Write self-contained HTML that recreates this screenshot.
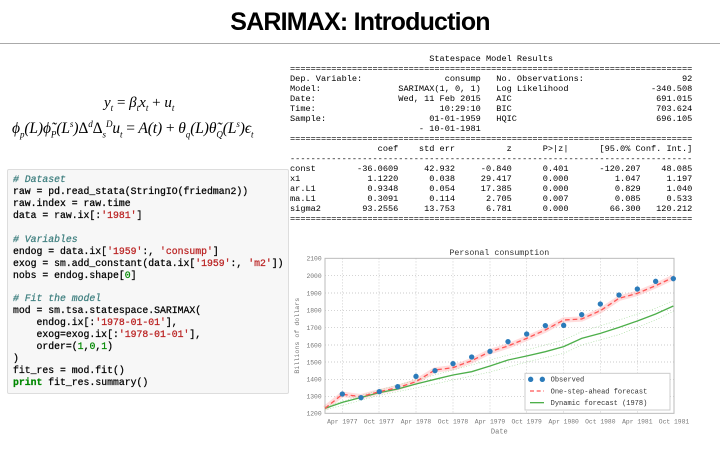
<!DOCTYPE html>
<html><head><meta charset="utf-8"><style>
body{margin:0;width:720px;height:450px;background:#fff;position:relative;overflow:hidden;font-family:"Liberation Sans",sans-serif}
.title{position:absolute;left:0;width:720px;top:8px;text-align:center;font-weight:bold;font-size:25px;letter-spacing:-0.8px;color:#000}
.rule{position:absolute;left:0;top:43px;width:720px;height:1px;background:#aaa}
.eq{position:absolute;font-family:"Liberation Serif",serif;font-style:italic;font-size:14px;white-space:nowrap;color:#000}
.eq sub,.eq sup{font-size:9px}
.code{position:absolute;left:7px;top:169px;width:280px;height:223px;background:#f7f7f7;border:1px solid #ddd;border-radius:2px}
.code pre{margin:0;position:absolute;left:5px;top:4px;font-family:"Liberation Mono",monospace;font-size:9.8px;line-height:11.93px;color:#000;-webkit-text-stroke:0.25px}
.c{color:#408080;font-style:italic}.s{color:#ba2121}.n{color:#080}.k{color:#080;font-weight:bold}
.tbl{position:absolute;left:290px;top:54px;margin:0;font-family:"Liberation Mono",monospace;font-size:8.6px;line-height:10px;color:#000}
</style></head><body>
<div class="title">SARIMAX: Introduction</div>
<div class="rule"></div>
<div class="eq" style="left:104px;top:95px;font-size:15px">y<sub>t</sub> <span style="font-style:normal">=</span> β<sub>t</sub>x<sub>t</sub> <span style="font-style:normal">+</span> u<sub>t</sub></div>
<div class="eq" style="left:12px;top:119px;font-size:15.5px;letter-spacing:-0.1px">ϕ<sub>p</sub>(L)ϕ̃<sub>P</sub>(L<sup>s</sup>)<span style="font-style:normal">Δ</span><sup>d</sup><span style="font-style:normal">Δ</span><sub>s</sub><sup>D</sup>u<sub>t</sub> <span style="font-style:normal">=</span> A(t) <span style="font-style:normal">+</span> θ<sub>q</sub>(L)θ̃<sub>Q</sub>(L<sup>s</sup>)ϵ<sub>t</sub></div>
<div class="code"><pre><span class="c"># Dataset</span>
raw = pd.read_stata(StringIO(friedman2))
raw.index = raw.time
data = raw.ix[:<span class="s">'1981'</span>]

<span class="c"># Variables</span>
endog = data.ix[<span class="s">'1959'</span>:, <span class="s">'consump'</span>]
exog = sm.add_constant(data.ix[<span class="s">'1959'</span>:, <span class="s">'m2'</span>])
nobs = endog.shape[<span class="n">0</span>]

<span class="c"># Fit the model</span>
mod = sm.tsa.statespace.SARIMAX(
    endog.ix[:<span class="s">'1978-01-01'</span>],
    exog=exog.ix[:<span class="s">'1978-01-01'</span>],
    order=(<span class="n">1</span>,<span class="n">0</span>,<span class="n">1</span>)
)
fit_res = mod.fit()
<span class="k">print</span> fit_res.summary()</pre></div>
<pre class="tbl">                           Statespace Model Results                           
==============================================================================
Dep. Variable:                consump   No. Observations:                   92
Model:               SARIMAX(1, 0, 1)   Log Likelihood                -340.508
Date:                Wed, 11 Feb 2015   AIC                            691.015
Time:                        10:29:10   BIC                            703.624
Sample:                    01-01-1959   HQIC                           696.105
                         - 10-01-1981                                         
==============================================================================
                 coef    std err          z      P>|z|      [95.0% Conf. Int.]
------------------------------------------------------------------------------
const        -36.0609     42.932     -0.840      0.401      -120.207    48.085
x1             1.1220      0.038     29.417      0.000         1.047     1.197
ar.L1          0.9348      0.054     17.385      0.000         0.829     1.040
ma.L1          0.3091      0.114      2.705      0.007         0.085     0.533
sigma2        93.2556     13.753      6.781      0.000        66.300   120.212
==============================================================================</pre>
<svg style="position:absolute;left:290px;top:240px" width="400" height="200" viewBox="0 0 1200 600" font-family="Liberation Mono, monospace">
<rect x="105" y="55" width="1047" height="465" fill="#fff" stroke="#bbb" stroke-width="3"/>
<g stroke="#bbb" stroke-width="2" stroke-dasharray="3,6">
<line x1="105" x2="1152" y1="107" y2="107"/><line x1="105" x2="1152" y1="159" y2="159"/><line x1="105" x2="1152" y1="211" y2="211"/><line x1="105" x2="1152" y1="263" y2="263"/><line x1="105" x2="1152" y1="315" y2="315"/><line x1="105" x2="1152" y1="366" y2="366"/><line x1="105" x2="1152" y1="418" y2="418"/><line x1="105" x2="1152" y1="469" y2="469"/>
<line y1="55" y2="520" x1="157" x2="157"/><line y1="55" y2="520" x1="267" x2="267"/><line y1="55" y2="520" x1="378" x2="378"/><line y1="55" y2="520" x1="489" x2="489"/><line y1="55" y2="520" x1="600" x2="600"/><line y1="55" y2="520" x1="710" x2="710"/><line y1="55" y2="520" x1="821" x2="821"/><line y1="55" y2="520" x1="931" x2="931"/><line y1="55" y2="520" x1="1042" x2="1042"/>
</g>
<g fill="#777" font-size="19" text-anchor="end">
<text x="95" y="62">2100</text><text x="95" y="114">2000</text><text x="95" y="166">1900</text><text x="95" y="218">1800</text><text x="95" y="270">1700</text><text x="95" y="322">1600</text><text x="95" y="373">1500</text><text x="95" y="425">1400</text><text x="95" y="476">1300</text><text x="95" y="527">1200</text>
</g>
<g fill="#777" font-size="19" text-anchor="middle">
<text x="157" y="550">Apr 1977</text><text x="267" y="550">Oct 1977</text><text x="378" y="550">Apr 1978</text><text x="489" y="550">Oct 1978</text><text x="600" y="550">Apr 1979</text><text x="710" y="550">Oct 1979</text><text x="821" y="550">Apr 1980</text><text x="931" y="550">Oct 1980</text><text x="1042" y="550">Apr 1981</text><text x="1152" y="550">Oct 1981</text>
<text x="628" y="580" font-size="21">Date</text>
<text x="628" y="45" font-size="25" fill="#333">Personal consumption</text>
<text transform="translate(27,287) rotate(-90)" font-size="20">Billions of dollars</text>
</g>
<polyline fill="none" stroke="#ff9090" stroke-opacity="0.3" stroke-width="16" points="105,505 157,463 213,470 268,455 323,443 378,425 435,390 489,383 545,362 600,335 654,318 710,295 766,270 821,240 875,237 931,212 987,175 1042,160 1097,137 1150,112"/>
<g fill="none" stroke="#a8dca0" stroke-width="2" stroke-dasharray="3,5">
<polyline points="105,500 268,450 378,420 489,390 600,360 710,330 821,300 875,275 987,240 1097,205 1150,182"/>
<polyline points="105,510 268,466 378,444 489,420 600,396 710,366 821,340 875,315 987,284 1097,240 1150,214"/>
</g>
<polyline fill="none" stroke="#4daf4a" stroke-width="4" points="105,505 157,487 268,458 323,447 378,432 435,418 489,405 545,395 600,378 654,360 710,348 766,335 821,320 875,295 931,280 987,262 1042,243 1097,222 1150,198"/>
<polyline fill="none" stroke="#ff5555" stroke-width="4" stroke-dasharray="14,9" points="105,505 157,463 213,470 268,455 323,443 378,425 435,390 489,383 545,362 600,335 654,318 710,295 766,270 821,240 875,237 931,212 987,175 1042,160 1097,137 1150,112"/>
<g fill="#2b7bba">
<circle cx="157" cy="462" r="8"/><circle cx="213" cy="473" r="8"/><circle cx="268" cy="455" r="8"/><circle cx="323" cy="440" r="8"/><circle cx="378" cy="409" r="8"/><circle cx="435" cy="392" r="8"/><circle cx="489" cy="371" r="8"/><circle cx="545" cy="351" r="8"/><circle cx="600" cy="334" r="8"/><circle cx="654" cy="305" r="8"/><circle cx="710" cy="282" r="8"/><circle cx="766" cy="257" r="8"/><circle cx="821" cy="256" r="8"/><circle cx="875" cy="224" r="8"/><circle cx="931" cy="192" r="8"/><circle cx="987" cy="165" r="8"/><circle cx="1042" cy="147" r="8"/><circle cx="1097" cy="124" r="8"/><circle cx="1150" cy="116" r="8"/>
</g>
<rect x="705" y="400" width="435" height="110" fill="#fff" stroke="#ccc" stroke-width="3"/>
<circle cx="722" cy="418" r="8" fill="#2b7bba"/><circle cx="757" cy="418" r="8" fill="#2b7bba"/>
<line x1="720" x2="762" y1="453" y2="453" stroke="#ff5555" stroke-width="4" stroke-dasharray="12,8"/>
<line x1="720" x2="762" y1="488" y2="488" stroke="#4daf4a" stroke-width="4"/>
<g font-size="21" fill="#333"><text x="782" y="425">Observed</text><text x="782" y="460">One-step-ahead forecast</text><text x="782" y="495">Dynamic forecast (1978)</text></g>
</svg>
</body></html>
